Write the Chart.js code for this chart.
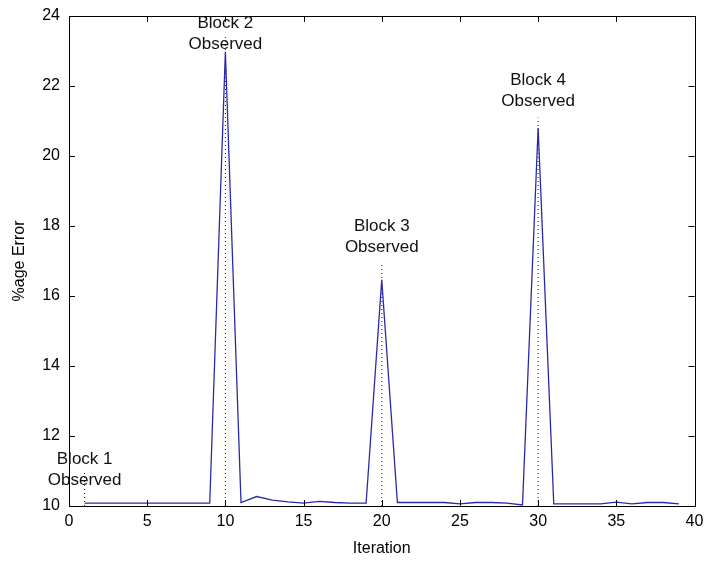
<!DOCTYPE html>
<html>
<head>
<meta charset="utf-8">
<script src="https://cdn.jsdelivr.net/npm/chart.js@4.4.0/dist/chart.umd.min.js"></script>
<style>
  html, body { margin: 0; padding: 0; background: #fff; overflow: hidden; }
  #wrap { width: 706px; height: 561px; }
</style>
</head>
<body>
<div id="wrap"><canvas id="canvas"></canvas></div>
<script>
// MARK: Data
const iterations = [
  1, 2, 3, 4, 5, 6, 7, 8, 9, 10,
  11, 12, 13, 14, 15, 16, 17, 18, 19, 20,
  21, 22, 23, 24, 25, 26, 27, 28, 29, 30,
  31, 32, 33, 34, 35, 36, 37, 38, 39
];
const errorPct = [
  10.08, 10.08, 10.08, 10.08, 10.08, 10.08, 10.08, 10.08, 10.08, 22.98,
  10.10, 10.27, 10.17, 10.12, 10.08, 10.13, 10.10, 10.08, 10.08, 16.46,
  10.10, 10.10, 10.10, 10.10, 10.06, 10.10, 10.10, 10.08, 10.03, 20.80,
  10.06, 10.06, 10.06, 10.06, 10.11, 10.06, 10.10, 10.10, 10.06
];

// observation markers (dotted lines + labels)
const blockX = [1, 10, 20, 30];
const blockNames = ['Block 1', 'Block 2', 'Block 3', 'Block 4'];
const markerTop = [11.0, 23.4, 16.95, 21.1];
const labelY = [11.03, 23.5, 17.69, 21.86];

const xTicks = { min: 0, max: 40, step: 5 };
const yTicks = { min: 10, max: 24, step: 2 };

const FONT = 'Liberation Sans, Arial, Helvetica, sans-serif';

// MARK: Plugins
const matlabAxes = {
  id: 'matlabAxes',
  afterDatasetsDraw(chart) {
    const { ctx, chartArea: a, scales: { x, y } } = chart;
    ctx.save();
    ctx.strokeStyle = '#000';
    ctx.lineWidth = 1;
    ctx.strokeRect(Math.round(a.left) + 0.5, Math.round(a.top) + 0.5,
      Math.round(a.right - a.left), Math.round(a.bottom - a.top));
    const len = 6;
    ctx.beginPath();
    x.ticks.forEach(t => {
      const px = Math.round(x.getPixelForValue(t.value)) + 0.5;
      ctx.moveTo(px, a.bottom); ctx.lineTo(px, a.bottom - len);
      ctx.moveTo(px, a.top); ctx.lineTo(px, a.top + len);
    });
    y.ticks.forEach(t => {
      const py = Math.round(y.getPixelForValue(t.value)) + 0.5;
      ctx.moveTo(a.left, py); ctx.lineTo(a.left + len, py);
      ctx.moveTo(a.right, py); ctx.lineTo(a.right - len, py);
    });
    ctx.stroke();

    // labels
    ctx.fillStyle = '#111';
    ctx.font = '17px ' + FONT;
    ctx.textAlign = 'center';
    ctx.textBaseline = 'middle';
    blockX.forEach((bx, i) => {
      const px = x.getPixelForValue(bx);
      const py = y.getPixelForValue(labelY[i]);
      ctx.fillText(blockNames[i], px, py - 10.5);
      ctx.fillText('Observed', px, py + 10.5);
    });
    ctx.restore();
  }
};

// MARK: Chart
const datasets = [{
  label: '%age Error',
  data: iterations.map((it, i) => ({ x: it, y: errorPct[i] })),
  borderColor: '#2a2aa8',
  borderWidth: 1.3,
  pointRadius: 0,
  tension: 0
}];

blockX.forEach((bx, i) => {
  datasets.push({
    label: blockNames[i],
    data: [{ x: bx, y: yTicks.min }, { x: bx, y: markerTop[i] }],
    borderColor: '#222',
    borderWidth: 1,
    borderDash: [1, 3],
    pointRadius: 0
  });
});

const ctx = document.getElementById('canvas').getContext('2d');

const chart = new Chart(ctx, {
  type: 'line',
  data: { datasets },
  options: {
    responsive: true,
    maintainAspectRatio: false,
    animation: false,
    devicePixelRatio: 1,
    layout: {
      padding: { left: 0, right: 11.5, top: 16, bottom: 0 }
    },
    plugins: {
      legend: { display: false },
      tooltip: { enabled: false }
    },
    scales: {
      x: {
        type: 'linear',
        min: xTicks.min,
        max: xTicks.max,
        afterFit: s => { s.height = 55; s.paddingLeft = 0; s.paddingRight = 0; },
        grid: { display: false, drawTicks: false },
        border: { display: false },
        ticks: {
          stepSize: xTicks.step,
          padding: 6,
          color: '#000',
          font: { family: FONT, size: 16 }
        },
        title: {
          display: true,
          text: 'Iteration',
          color: '#000',
          padding: { top: 0, bottom: 3 },
          font: { family: FONT, size: 16 }
        }
      },
      y: {
        min: yTicks.min,
        max: yTicks.max,
        afterFit: s => { s.width = 69; s.paddingTop = 0; s.paddingBottom = 0; },
        grid: { display: false, drawTicks: false },
        border: { display: false },
        ticks: {
          stepSize: yTicks.step,
          padding: 9,
          color: '#000',
          font: { family: FONT, size: 16 }
        },
        title: {
          display: true,
          text: '%age Error',
          color: '#000',
          padding: { top: 10, bottom: 0 },
          font: { family: FONT, size: 16 }
        }
      }
    }
  },
  plugins: [matlabAxes]
});
</script>
</body>
</html>
